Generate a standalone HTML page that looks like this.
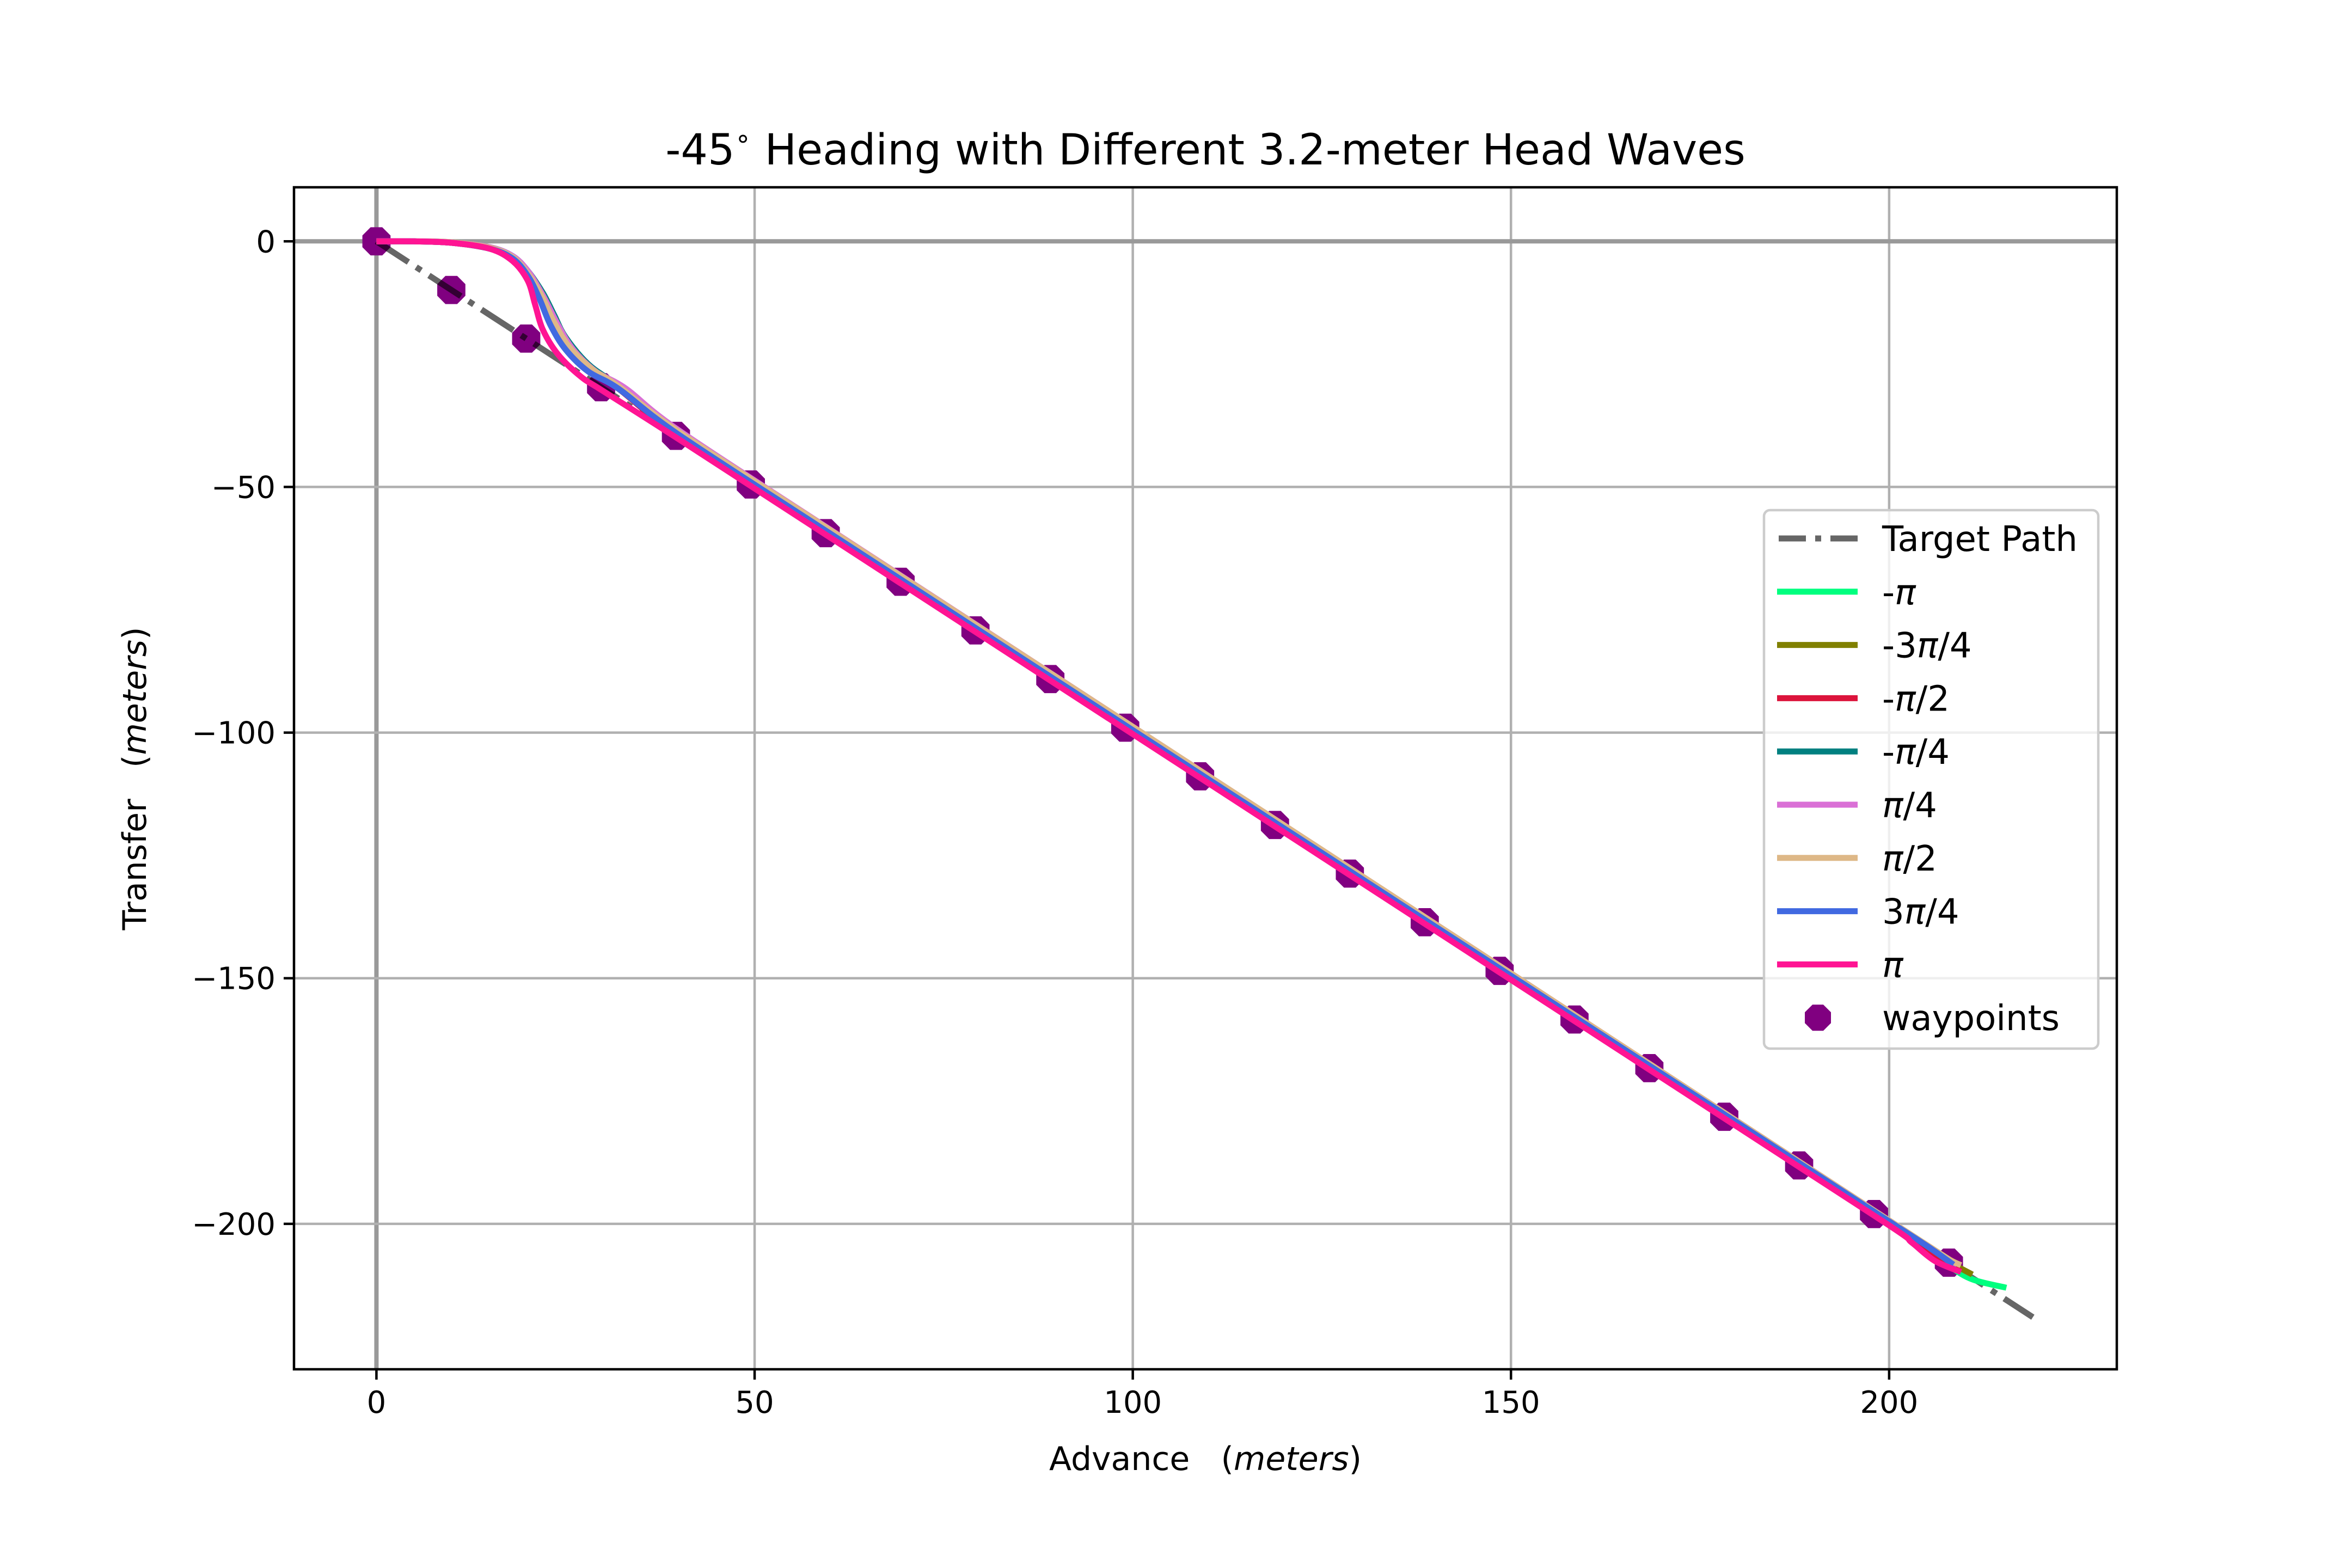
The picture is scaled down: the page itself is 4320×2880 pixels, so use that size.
<!DOCTYPE html>
<html><head><meta charset="utf-8"><style>
html,body{margin:0;padding:0;background:#fff}
svg{display:block;font-family:"DejaVu Sans","Liberation Sans",sans-serif}
</style></head><body>
<svg id="chart" width="4320" height="2880" viewBox="0 0 4320 2880" xmlns="http://www.w3.org/2000/svg">
<rect x="0" y="0" width="4320" height="2880" fill="#fff"/>
<text x="2214" y="302" font-size="78" text-anchor="middle">-45<tspan font-size="48" dy="-32">∘</tspan><tspan dy="32"> Heading with Different 3.2-meter Head Waves</tspan></text>
<g id="grid"></g>
<g id="plot"></g>
<rect x="540" y="344" width="3348" height="2171" fill="none" stroke="#000" stroke-width="4.5"/>
<g id="ticks"></g>
<text x="2214" y="2700" font-size="60" text-anchor="middle" xml:space="preserve">Advance   (<tspan font-style="italic">meters</tspan>)</text>
<text x="0" y="0" font-size="60" text-anchor="middle" xml:space="preserve" transform="translate(268,1430) rotate(-90)">Transfer   (<tspan font-style="italic">meters</tspan>)</text>
<g id="legend"></g>
</svg>
<script>
const xTicks=[0,50,100,150,200];
const yTicks=[0,-50,-100,-150,-200];
const yTickLabels=["0","\u221250","\u2212100","\u2212150","\u2212200"];
const waypointX=[0,9.9,19.8,29.7,39.6,49.5,59.4,69.3,79.2,89.1,99,108.9,118.8,128.7,138.6,148.5,158.4,168.3,178.2,188.1,198,207.9];
const waypointY=[0,-9.9,-19.8,-29.7,-39.6,-49.5,-59.4,-69.3,-79.2,-89.1,-99,-108.9,-118.8,-128.7,-138.6,-148.5,-158.4,-168.3,-178.2,-188.1,-198,-207.9];
const targetX=[0,219];
const targetY=[0,-219];
const seriesNames=["-π","-3π/4","-π/2","-π/4","π/4","π/2","3π/4","π"];
const seriesColors=["#00ff7f","#808000","#dc143c","#008080","#da70d6","#deb887","#4169e1","#ff1493"];
const xNegPi=[0,5,10,15,18,20,21.5,23,25,28,32,40,60,100,150,180,200,205,208,211,215.5];
const yNegPi=[0,0,-0.3,-1.5,-3.5,-7,-11,-16,-21,-26,-30,-39.5,-59.6,-99.6,-149.6,-179.6,-199.6,-204.8,-208.6,-211.3,-213];
const xNeg3Q=[0,5,10,15,18,20,21.5,23,25,28,32,40,60,100,150,180,200,205,208,211];
const yNeg3Q=[0,0,-0.3,-1.5,-3.5,-7,-11,-16,-21,-26,-30,-39.6,-59.7,-99.7,-149.7,-179.7,-199.7,-204.7,-207.8,-210.3];
const xNegHalf=[0,5,10,15,18,20,21.5,23,25,28,32,40,60,100,150,180,200,205,208,209.5];
const yNegHalf=[0,0,-0.3,-1.5,-3.5,-7,-11,-16,-21,-26,-30,-39.7,-59.8,-99.8,-149.8,-179.8,-199.8,-205,-208.5,-209.7];
const xNegQ=[0,5,10,15,18,20,22,23.5,25,28,32,40,60,100,150,180,200,205,208,209];
const yNegQ=[0,0,-0.2,-1.2,-3,-6,-10.5,-15,-19.5,-25,-29.5,-39.3,-59.4,-99.4,-149.4,-179.4,-199.4,-204.5,-207.5,-208.3];
const xPosQ=[0,5,10,15,18,20,22,24,26,29,33,40,60,100,150,180,200,205,208,209];
const yPosQ=[0,0,-0.2,-1.2,-3,-6,-11,-17,-22,-26.5,-30,-38.5,-58.7,-98.8,-149,-179.2,-199.3,-204.4,-207.4,-208.2];
const xPosHalf=[0,5,10,15,18,20,21.8,23.5,25.5,28.5,32,40,60,100,150,180,200,205,208,209.5];
const yPosHalf=[0,0,-0.2,-1.3,-3.2,-6.5,-11,-16.5,-21.5,-26,-29.5,-38.8,-58.8,-98.8,-149,-179.2,-199.3,-204.3,-207.3,-208.4];
const xPos3Q=[0,5,10,15,18,20,21.5,23,25,28,32,40,60,100,150,180,200,205,208.5];
const yPos3Q=[0,0,-0.3,-1.5,-3.5,-7,-11.5,-17,-22,-26.5,-30,-39.4,-59.5,-99.5,-149.5,-179.5,-199.5,-204.5,-208.3];
const xPosPi=[0,5,10,15,18,20,21,22,24,27,30,40,60,100,150,180,200,203,206,209.5];
const yPosPi=[0,0,-0.3,-1.5,-4,-8,-13,-18,-23,-27.5,-30.5,-40.3,-60.3,-100.3,-150.3,-180.3,-200.3,-203.8,-207.5,-209.8];
const seriesX=[xNegPi,xNeg3Q,xNegHalf,xNegQ,xPosQ,xPosHalf,xPos3Q,xPosPi];
const seriesY=[yNegPi,yNeg3Q,yNegHalf,yNegQ,yPosQ,yPosHalf,yPos3Q,yPosPi];

const X0=540,X1=3888,Y0=344,Y1=2515;
const xMin=-10.9,xMax=230.1,yMin=-229.6,yMax=11;
const sx=v=>X0+(v-xMin)/(xMax-xMin)*(X1-X0);
const sy=v=>Y0+(yMax-v)/(yMax-yMin)*(Y1-Y0);
const NS="http://www.w3.org/2000/svg";
function mk(tag,attrs,parent){const e=document.createElementNS(NS,tag);for(const k in attrs)e.setAttribute(k,attrs[k]);parent.appendChild(e);return e;}
const grid=document.getElementById('grid'),plot=document.getElementById('plot'),ticks=document.getElementById('ticks'),legend=document.getElementById('legend');
const LW_LINE=11;

xTicks.forEach((t,i)=>{
  const g=mk('line',{x1:sx(t),x2:sx(t),y1:Y0,y2:Y1,stroke:t===0?'#999':'#b0b0b0','stroke-width':t===0?8:4.5},grid);
  
  
  const tk=mk('line',{x1:sx(t),x2:sx(t),y1:Y1,y2:Y1+19,stroke:'#000','stroke-width':4.5},ticks);
  
  
  const tx=mk('text',{x:sx(t),y:Y1+80,'font-size':56,'text-anchor':'middle'},ticks);
  
  
  tx.textContent=String(t);
});
yTicks.forEach((t,i)=>{
  const g=mk('line',{x1:X0,x2:X1,y1:sy(t),y2:sy(t),stroke:t===0?'#999':'#b0b0b0','stroke-width':t===0?8:4.5},grid);
  
  
  const tk=mk('line',{x1:X0-19,x2:X0,y1:sy(t),y2:sy(t),stroke:'#000','stroke-width':4.5},ticks);
  
  
  const tx=mk('text',{x:X0-34,y:sy(t)+20,'font-size':56,'text-anchor':'end'},ticks);
  
  
  tx.textContent=yTickLabels[i];
});

function octagon(cx,cy,r){let p=[];for(let k=0;k<8;k++){const a=Math.PI/8+k*Math.PI/4;p.push((cx+r*Math.cos(a)).toFixed(1)+','+(cy+r*Math.sin(a)).toFixed(1));}return p.join(' ');}
waypointX.forEach((x,i)=>{
  const m=mk('polygon',{points:octagon(sx(x),sy(waypointY[i]),28),fill:'#800080'},plot);
  
  
});
const tp=mk('line',{x1:sx(targetX[0]),y1:sy(targetY[0]),x2:sx(targetX[1]),y2:sy(targetY[1]),stroke:'#000','stroke-opacity':0.6,'stroke-width':LW_LINE,'stroke-dasharray':'70 17 11 17'},plot);



function smoothPath(xs,ys){
  const P=xs.map((x,i)=>[sx(x),sy(ys[i])]);
  let d='M'+P[0][0].toFixed(1)+','+P[0][1].toFixed(1);
  for(let i=0;i<P.length-1;i++){
    const p0=P[Math.max(0,i-1)],p1=P[i],p2=P[i+1],p3=P[Math.min(P.length-1,i+2)];
    const c1=[p1[0]+(p2[0]-p0[0])/6,p1[1]+(p2[1]-p0[1])/6];
    const c2=[p2[0]-(p3[0]-p1[0])/6,p2[1]-(p3[1]-p1[1])/6];
    d+=' C'+c1.map(v=>v.toFixed(1)).join(',')+' '+c2.map(v=>v.toFixed(1)).join(',')+' '+p2[0].toFixed(1)+','+p2[1].toFixed(1);
  }
  return d;
}
seriesX.forEach((xs,i)=>{
  const p=mk('path',{d:smoothPath(xs,seriesY[i]),fill:'none',stroke:seriesColors[i],'stroke-width':LW_LINE,'stroke-linejoin':'round'},plot);
  
  
});

// legend
const LX=3240,LY=937,LW=614,LH=989;
const box=mk('rect',{x:LX,y:LY,width:LW,height:LH,rx:11,fill:'#fff','fill-opacity':0.8,stroke:'#ccc','stroke-width':4.5},legend);


const labels=['Target Path'].concat(seriesNames).concat(['waypoints']);
labels.forEach((lab,i)=>{
  const y=LY+52+i*97.8;
  let h;
  if(i===0){h=mk('line',{x1:3267,x2:3412,y1:y,y2:y,stroke:'#000','stroke-opacity':0.6,'stroke-width':LW_LINE,'stroke-dasharray':'50 17 11 17'},legend);}
  else if(i===labels.length-1){h=mk('polygon',{points:octagon(3339,y,26),fill:'#800080'},legend);}
  else{h=mk('line',{x1:3264,x2:3412,y1:y,y2:y,stroke:seriesColors[i-1],'stroke-width':LW_LINE},legend);}
  
  
  const t=mk('text',{x:3457,y:y+23,'font-size':64},legend);
  
  
  if(i>0&&i<labels.length-1){
    const parts=lab.split('π');
    if(parts[0]){const s=mk('tspan',{},t);s.textContent=parts[0];}
    const pi=mk('tspan',{'font-style':'italic'},t);pi.textContent='π';
    if(parts[1]){const s=mk('tspan',{},t);s.textContent=parts[1];}
  } else t.textContent=lab;
});
</script>
</body></html>
